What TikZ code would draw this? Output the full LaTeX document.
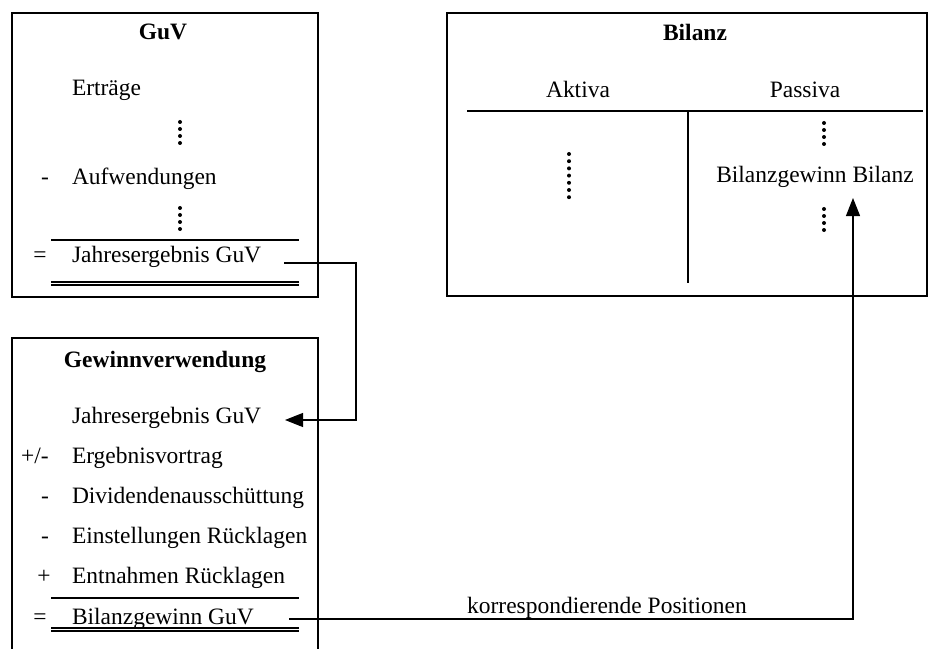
\documentclass[tikz,border=0pt]{standalone}
\usepackage{fontspec}
\setmainfont{Liberation Serif}
\usetikzlibrary{arrows.meta}
\begin{document}
\begin{tikzpicture}[x=0.75pt,y=-0.75pt,
  every node/.style={inner sep=0pt,outer sep=0pt,font=\fontsize{17.6}{20}\selectfont},
  frame/.style={line width=1.6pt},
  rule/.style={line width=1.3pt},
  dbl/.style={line width=0.8pt},
  item/.style={anchor=base west},
  sign/.style={anchor=base},
  title/.style={anchor=base,font=\fontsize{17.6}{20}\selectfont\bfseries},
  link/.style={line width=0.8pt},
  tip/.style={-{Triangle[length=13.5pt,width=10.5pt]}},
  vdot/.style={fill=black,circle,minimum size=3pt,inner sep=0pt}
]
\useasboundingbox (0,0) rectangle (928,649);

% ---------------- GuV ----------------
\draw[frame] (12,13) rectangle (318,297);
\node[title] (guvT) at (163,40) {GuV};
\node[item] (ertr) at (72,96) {Erträge};
\foreach \i in {0,...,3} \node[vdot] at (180,122+7*\i) {};
\node[sign] (s1) at (45,185) {-};
\node[item] (aufw) at (72,185) {Aufwendungen};
\foreach \i in {0,...,3} \node[vdot] at (180,208+7*\i) {};
\draw[rule] (51,240) -- (299,240);
\node[sign] (s2) at (40,262) {=};
\node[item] (jeG) at (72,262) {Jahresergebnis GuV};
\draw[dbl] (51,282) -- (299,282);
\draw[dbl] (51,285) -- (299,285);

% ---------------- Gewinnverwendung ----------------
\draw[frame] (12,660) -- (12,338) -- (318,338) -- (318,660);
\node[title] (gvT) at (165,367) {Gewinnverwendung};
\node[item] (jeV) at (72,423) {Jahresergebnis GuV};
\node[sign] (t1) at (35,463) {+/-};
\node[item] (erg) at (72,463) {Ergebnisvortrag};
\node[sign] (t2) at (45,503) {-};
\node[item] (div) at (72,503) {Dividendenausschüttung};
\node[sign] (t3) at (45,543) {-};
\node[item] (ein) at (72,543) {Einstellungen Rücklagen};
\node[sign] (t4) at (44,583) {+};
\node[item] (ent) at (72,583) {Entnahmen Rücklagen};
\draw[rule] (51,598) -- (299,598);
\node[sign] (t5) at (40,624) {=};
\node[item] (bgG) at (72,624) {Bilanzgewinn GuV};
\draw[dbl] (51,628) -- (299,628);
\draw[dbl] (51,631) -- (299,631);

% ---------------- Bilanz ----------------
\draw[frame] (447,13) -- (927,13) -- (927,296) -- (447,296) -- cycle;
\node[title] (bT) at (695,41) {Bilanz};
\node[anchor=base] (akt) at (578,98) {Aktiva};
\node[anchor=base] (pas) at (805,98) {Passiva};
\draw[rule] (467,111) -- (923,111);
\draw[rule] (688,111) -- (688,283);
\foreach \i in {0,...,6} \node[vdot] at (569,154+7.2*\i) {};
\foreach \i in {0,...,3} \node[vdot] at (824,123+7*\i) {};
\node[anchor=base] (bgB) at (815,183) {Bilanzgewinn Bilanz};
\foreach \i in {0,...,3} \node[vdot] at (824,209+7*\i) {};

% ---------------- Connectors ----------------
\coordinate (jeGout) at (284,263);
\coordinate (jeVin)  at (285,420);
\coordinate (bgGin)  at (289,619);
\coordinate (bgBin)  at (853,198);
\draw[link,tip] (jeGout) -- (356,263) |- (jeVin);
\draw[link,tip] (bgGin) -- (853,619) -- (bgBin);
\node[anchor=base] (korr) at (607,613) {korrespondierende Positionen};
\end{tikzpicture}
\end{document}
